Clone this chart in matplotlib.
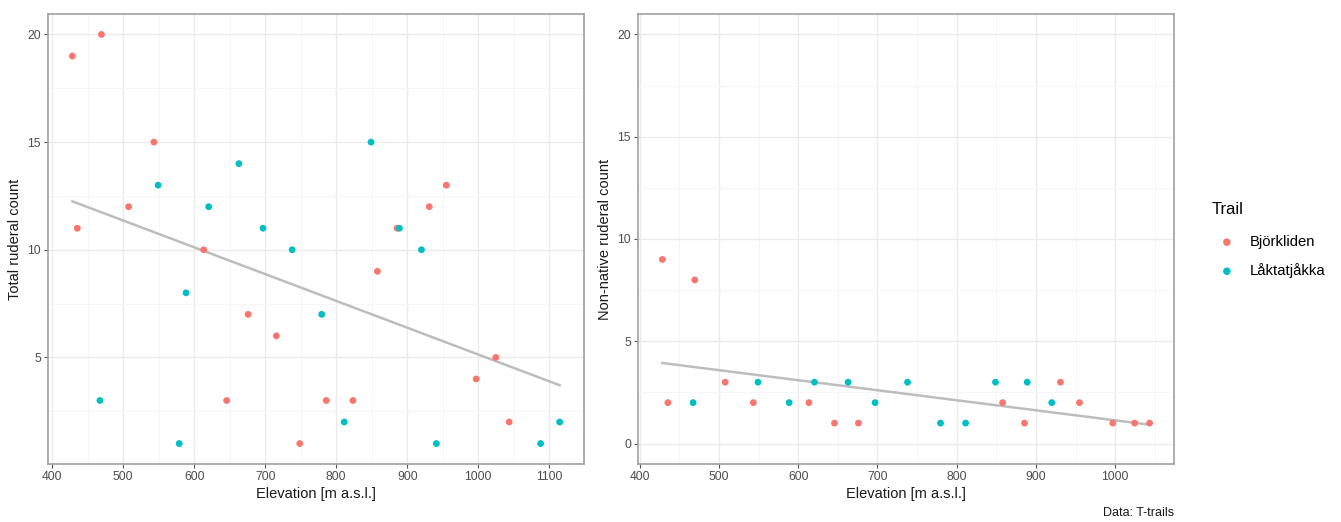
import numpy as np
import matplotlib.pyplot as plt
from matplotlib.ticker import MultipleLocator

plt.rcParams["font.family"] = ["Liberation Sans", "DejaVu Sans"]

# Björkliden plots
bjo_elev = [428.6, 469.5, 435.6, 507.8, 543.4, 613.5, 645.8, 676, 715.8, 748.7,
            786, 823.6, 858, 885.6, 931, 955, 997, 1024.6, 1043.5]
bjo_total = [19, 20, 11, 12, 15, 10, 3, 7, 6, 1, 3, 3, 9, 11, 12, 13, 4, 5, 2]
bjo_nonnative = [9, 8, 2, 3, 2, 2, 1, 1, None, None, None, None, 2, 1, 3, 2, 1, 1, 1]

# Låktatjåkka plots
lak_elev = [467.4, 549.3, 579, 588.6, 620.5, 663, 697, 738, 779.6, 811.3,
            849, 889, 920, 941, 1087.7, 1114.5]
lak_total = [3, 13, 1, 8, 12, 14, 11, 10, 7, 2, 15, 11, 10, 1, 1, 2]
lak_nonnative = [2, 3, None, 2, 3, 3, 2, 3, 1, 1, 3, 3, 2, None, None, None]

trails = ["Björkliden", "Låktatjåkka"]
colors = ["#F8766D", "#00BFC4"]

W, H = 1341, 522
fig = plt.figure(figsize=(W / 100, H / 100), dpi=100)
ax1 = fig.add_axes([48 / W, 1 - 464 / H, 536 / W, 450 / H])
ax2 = fig.add_axes([638 / W, 1 - 464 / H, 536 / W, 450 / H])


def pairs(xs, ys):
    pts = [(x, y) for x, y in zip(xs, ys) if y is not None]
    return np.array([p[0] for p in pts]), np.array([p[1] for p in pts], dtype=float)


def expand(lo, hi, frac=0.05):
    pad = (hi - lo) * frac
    return lo - pad, hi + pad


def panel(ax, series, ylabel, ylim=None):
    allx, ally = [], []
    for (xs, ys), col, lab in zip(series, colors, trails):
        x, y = pairs(xs, ys)
        allx.append(x)
        ally.append(y)
        ax.scatter(x, y, s=24, color=col, edgecolors="none", label=lab, zorder=3)
    allx = np.concatenate(allx)
    ally = np.concatenate(ally)
    # linear fit over both trails
    k, b = np.polyfit(allx, ally, 1)
    xx = np.array([allx.min(), allx.max()])
    ax.plot(xx, k * xx + b, color="#BDBDBD", lw=1.8, zorder=2)

    ax.set_xlim(*expand(allx.min(), allx.max()))
    if ylim is None:
        ylim = (ally.min(), ally.max())
    ax.set_ylim(*expand(*ylim))
    ax.xaxis.set_major_locator(MultipleLocator(100))
    ax.yaxis.set_major_locator(MultipleLocator(5))
    ax.xaxis.set_minor_locator(MultipleLocator(50))
    ax.yaxis.set_minor_locator(MultipleLocator(2.5))
    ax.grid(which="major", color="#EBEBEB", lw=1.0, zorder=0)
    ax.grid(which="minor", color="#F5F5F5", lw=0.6, zorder=0)
    ax.set_axisbelow(True)
    ax.tick_params(which="major", length=3, color="#555555", labelsize=8.7,
                   labelcolor="#4D4D4D", pad=2)
    ax.tick_params(which="minor", length=0)
    for s in ax.spines.values():
        s.set_color("#A0A0A0")
        s.set_linewidth(1.2)
    ax.set_xlabel("Elevation [m a.s.l.]", fontsize=10.5, color="#1A1A1A", labelpad=3)
    ax.set_ylabel(ylabel, fontsize=10.5, color="#1A1A1A", labelpad=4)


panel(ax1, [(bjo_elev, bjo_total), (lak_elev, lak_total)], "Total ruderal count")
panel(ax2, [(bjo_elev, bjo_nonnative), (lak_elev, lak_nonnative)],
      "Non-native ruderal count", ylim=(0, 20))

leg = fig.legend(*ax2.get_legend_handles_labels(), title="Trail",
                 loc="upper left", bbox_to_anchor=(1212 / W, 1 - 202 / H),
                 frameon=False, fontsize=10.7, title_fontsize=11.9,
                 borderpad=0, borderaxespad=0, handlelength=2.0,
                 handletextpad=0.55, labelspacing=0.95, markerscale=1.1)
leg._legend_box.align = "left"
leg._legend_box.sep = 13

fig.text(1174 / W, 1 - 513 / H, "Data: T-trails", ha="right", va="center",
         fontsize=9, color="#1A1A1A")

fig.savefig("out.png", dpi=100)
